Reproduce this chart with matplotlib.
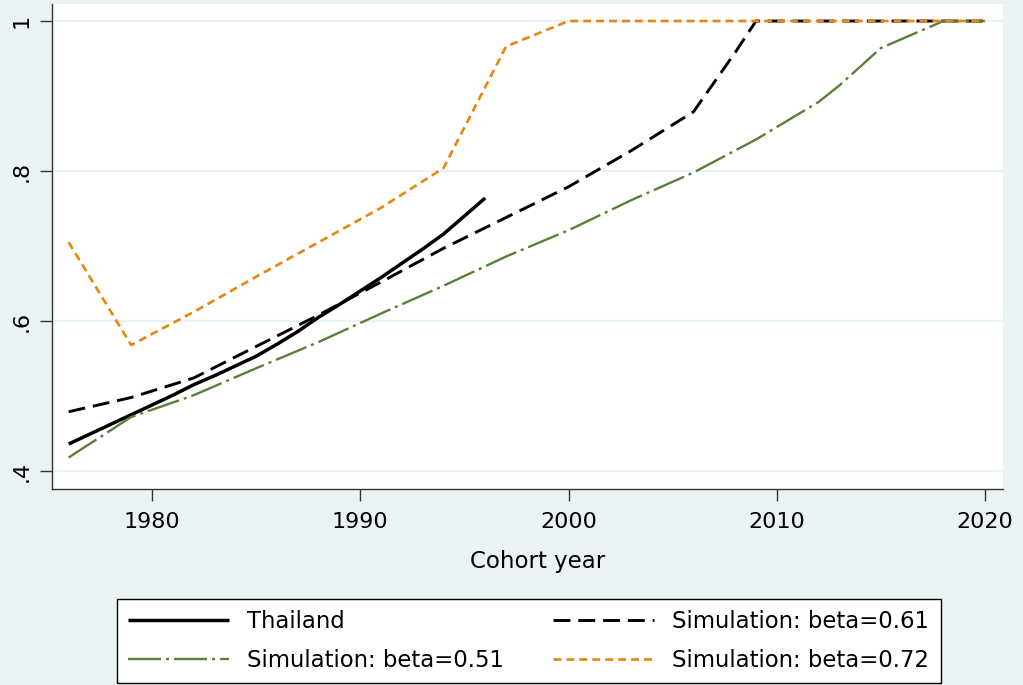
import matplotlib
matplotlib.use("Agg")
import matplotlib.pyplot as plt

plt.rcParams['font.family'] = ['DejaVu Sans']

# data
thai_years = list(range(1976, 1997))
thai_vals = [0.436, 0.449, 0.462, 0.475, 0.488, 0.501, 0.515, 0.527, 0.540, 0.553, 0.569,
             0.586, 0.605, 0.622, 0.640, 0.658, 0.677, 0.696, 0.716, 0.740, 0.764]

b61_years = [1976, 1979, 1982, 1985, 1988, 1991, 1994, 1997, 2000, 2003, 2006, 2008, 2009, 2020]
b61_vals = [0.479, 0.498, 0.524, 0.566, 0.608, 0.652, 0.697, 0.738, 0.779, 0.827, 0.879, 0.958, 1.0, 1.0]

b51_years = [1976, 1979, 1982, 1985, 1988, 1991, 1994, 1997, 2000, 2003, 2006, 2009, 2012, 2013, 2015, 2018, 2020]
b51_vals = [0.418, 0.472, 0.501, 0.537, 0.572, 0.610, 0.647, 0.686, 0.721, 0.761, 0.798, 0.842, 0.892, 0.914, 0.964, 1.0, 1.0]

b72_years = [1976, 1979, 1982, 1985, 1988, 1991, 1994, 1997, 2000, 2020]
b72_vals = [0.705, 0.568, 0.612, 0.659, 0.705, 0.751, 0.804, 0.966, 1.0, 1.0]

x_ticks = [1980, 1990, 2000, 2010, 2020]
y_ticks = [0.4, 0.6, 0.8, 1.0]
y_labels = ['.4', '.6', '.8', '1']

bg = '#EAF2F3'
orange = '#E8850F'
green = '#5B7F38'

fig = plt.figure(figsize=(10.23, 6.85), dpi=100, facecolor=bg)
ax = fig.add_axes([52 / 1023, 1 - 489 / 685, 951 / 1023, 485 / 685])
ax.set_facecolor('white')

l_thai, = ax.plot(thai_years, thai_vals, color='black', lw=2.5, solid_capstyle='butt')
l_61, = ax.plot(b61_years, b61_vals, color='black', lw=2.1, dashes=(5.8, 2.7))
l_51, = ax.plot(b51_years, b51_vals, color=green, lw=1.7, dashes=(14, 2.1, 1.3, 2.1))
l_72, = ax.plot(b72_years, b72_vals, color=orange, lw=1.9, dashes=(3.0, 1.9))

ax.set_xlim(1975.2, 2020.86)
ax.set_ylim(0.376, 1.0227)

ax.set_xticks(x_ticks)
ax.set_yticks(y_ticks)
ax.set_yticklabels(y_labels, rotation=90, va='center')
ax.tick_params(axis='both', labelsize=16, length=8.5, width=1.0, color='#333333')
ax.tick_params(axis='x', pad=8)
ax.tick_params(axis='y', pad=6)

ax.grid(axis='y', color=bg, lw=1.6)
ax.set_axisbelow(True)
for s in ['top', 'right']:
    ax.spines[s].set_visible(False)
for s in ['left', 'bottom']:
    ax.spines[s].set_color('#333333')
    ax.spines[s].set_linewidth(1.0)

ax.set_xlabel('Cohort year', fontsize=16.5, labelpad=12)
ax.xaxis.set_label_coords(0.511, -0.125)

leg = fig.legend([l_thai, l_51, l_61, l_72],
                 ['Thailand', 'Simulation: beta=0.51', 'Simulation: beta=0.61', 'Simulation: beta=0.72'],
                 ncol=2, loc='lower left', mode='expand',
                 bbox_to_anchor=(116.5 / 1023, 2 / 685, 824 / 1023, 85 / 685),
                 borderaxespad=0, fontsize=16.4, frameon=True, fancybox=False,
                 edgecolor='black', facecolor='white', framealpha=1,
                 handlelength=4.45, handletextpad=0.78, borderpad=0.5, labelspacing=0.68)
leg.get_frame().set_linewidth(1.0)

fig.savefig('out.png', dpi=100, facecolor=bg)
